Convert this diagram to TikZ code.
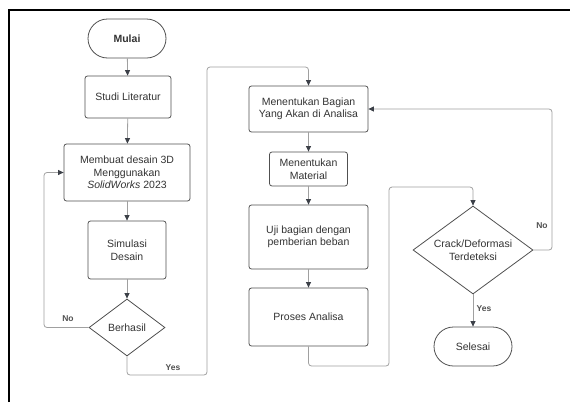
\documentclass[tikz,border=0pt]{standalone}
\usepackage{fontspec}
\setmainfont{Liberation Sans}
\usetikzlibrary{shapes.geometric,arrows.meta}
\definecolor{boxline}{HTML}{505050}
\definecolor{txt}{HTML}{333333}
\definecolor{conn}{HTML}{A0A0A0}
\definecolor{tipc}{HTML}{3C4048}
\tikzset{
  base/.style={draw=boxline, line width=0.8pt, text=txt, font=\fontsize{10.5}{12.5}\selectfont, align=center, inner sep=0pt},
  procbox/.style={base, rectangle, rounded corners=2.5pt},
  termbox/.style={base, rounded rectangle, rounded rectangle arc length=180},
  decbox/.style={base, diamond},
  conn/.style={draw=conn, line width=0.8pt, rounded corners=3pt, -{Triangle[length=5.5pt,width=5pt,color=tipc]}},
  lbl/.style={text=boxline, font=\fontsize{8.5}{10}\selectfont\bfseries, inner sep=0pt}
}
\usetikzlibrary{shapes.misc}
\begin{document}
\begin{tikzpicture}[x=1pt,y=-1pt]
\useasboundingbox (0,0) rectangle (570,402);
\draw[line width=2pt, black] (9,402) -- (9,9.5) -- (570,9.5);

\node[termbox, minimum width=78pt, minimum height=39pt, font=\fontsize{10.5}{12.5}\selectfont\bfseries] (mulai) at (127,38.5) {Mulai};
\node[procbox, minimum width=86pt, minimum height=42pt] (studi) at (128,97) {Studi Literatur};
\node[procbox, minimum width=126pt, minimum height=57pt] (membuat) at (127,172.5) {Membuat desain 3D\\Menggunakan\\\textit{SolidWorks} 2023};
\node[procbox, minimum width=78pt, minimum height=58pt] (simulasi) at (127,250) {Simulasi\\Desain};
\node[decbox, minimum width=76pt, minimum height=57pt, label={[text=txt, font=\fontsize{10.5}{12.5}\selectfont]center:Berhasil}] (berhasil) at (127,327.5) {};

\node[procbox, minimum width=119pt, minimum height=46pt] (bagian) at (308.5,109) {Menentukan Bagian\\Yang Akan di Analisa};
\node[procbox, minimum width=78pt, minimum height=34pt] (material) at (308.5,169) {Menentukan\\Material};
\node[procbox, minimum width=119pt, minimum height=64pt] (uji) at (308.5,237) {Uji bagian dengan\\pemberian beban};
\node[procbox, minimum width=119pt, minimum height=58pt] (proses) at (308.5,317) {Proses Analisa};

\node[decbox, minimum width=120pt, minimum height=88pt, label={[text=txt, align=center, font=\fontsize{10.5}{12.5}\selectfont]center:Crack/Deformasi\\Terdeteksi}] (crack) at (473,250) {};
\node[termbox, minimum width=78pt, minimum height=39pt] (selesai) at (473,346.5) {Selesai};

\draw[conn] (mulai) -- (studi);
\draw[conn] (studi) -- (membuat);
\draw[conn] (membuat) -- (simulasi);
\draw[conn] (simulasi) -- (berhasil);
\coordinate (noA) at (44,327.5);
\draw[conn] (berhasil.west) -- (noA) |- (membuat.west);
\coordinate (yesA) at (207,375);
\coordinate (yesB) at (207,67);
\draw[conn] (berhasil.south) |- (yesA) -- (yesB) -| (bagian.north);
\draw[conn] (bagian) -- (material);
\draw[conn] (material) -- (uji);
\draw[conn] (uji) -- (proses);
\coordinate (prA) at (389,366);
\coordinate (prB) at (389,187);
\draw[conn] (proses.south) |- (prA) -- (prB) -| (crack.north);
\draw[conn] (crack.south) -- (selesai.north);
\coordinate (crA) at (552,250);
\draw[conn] (crack.east) -- (crA) |- (bagian.east);

\node[lbl] (lno1) at (68,319) {No};
\node[lbl] (lyes1) at (173,367.5) {Yes};
\node[lbl] (lyes2) at (484,309) {Yes};
\node[lbl] (lno2) at (542,226) {No};
\end{tikzpicture}
\end{document}
